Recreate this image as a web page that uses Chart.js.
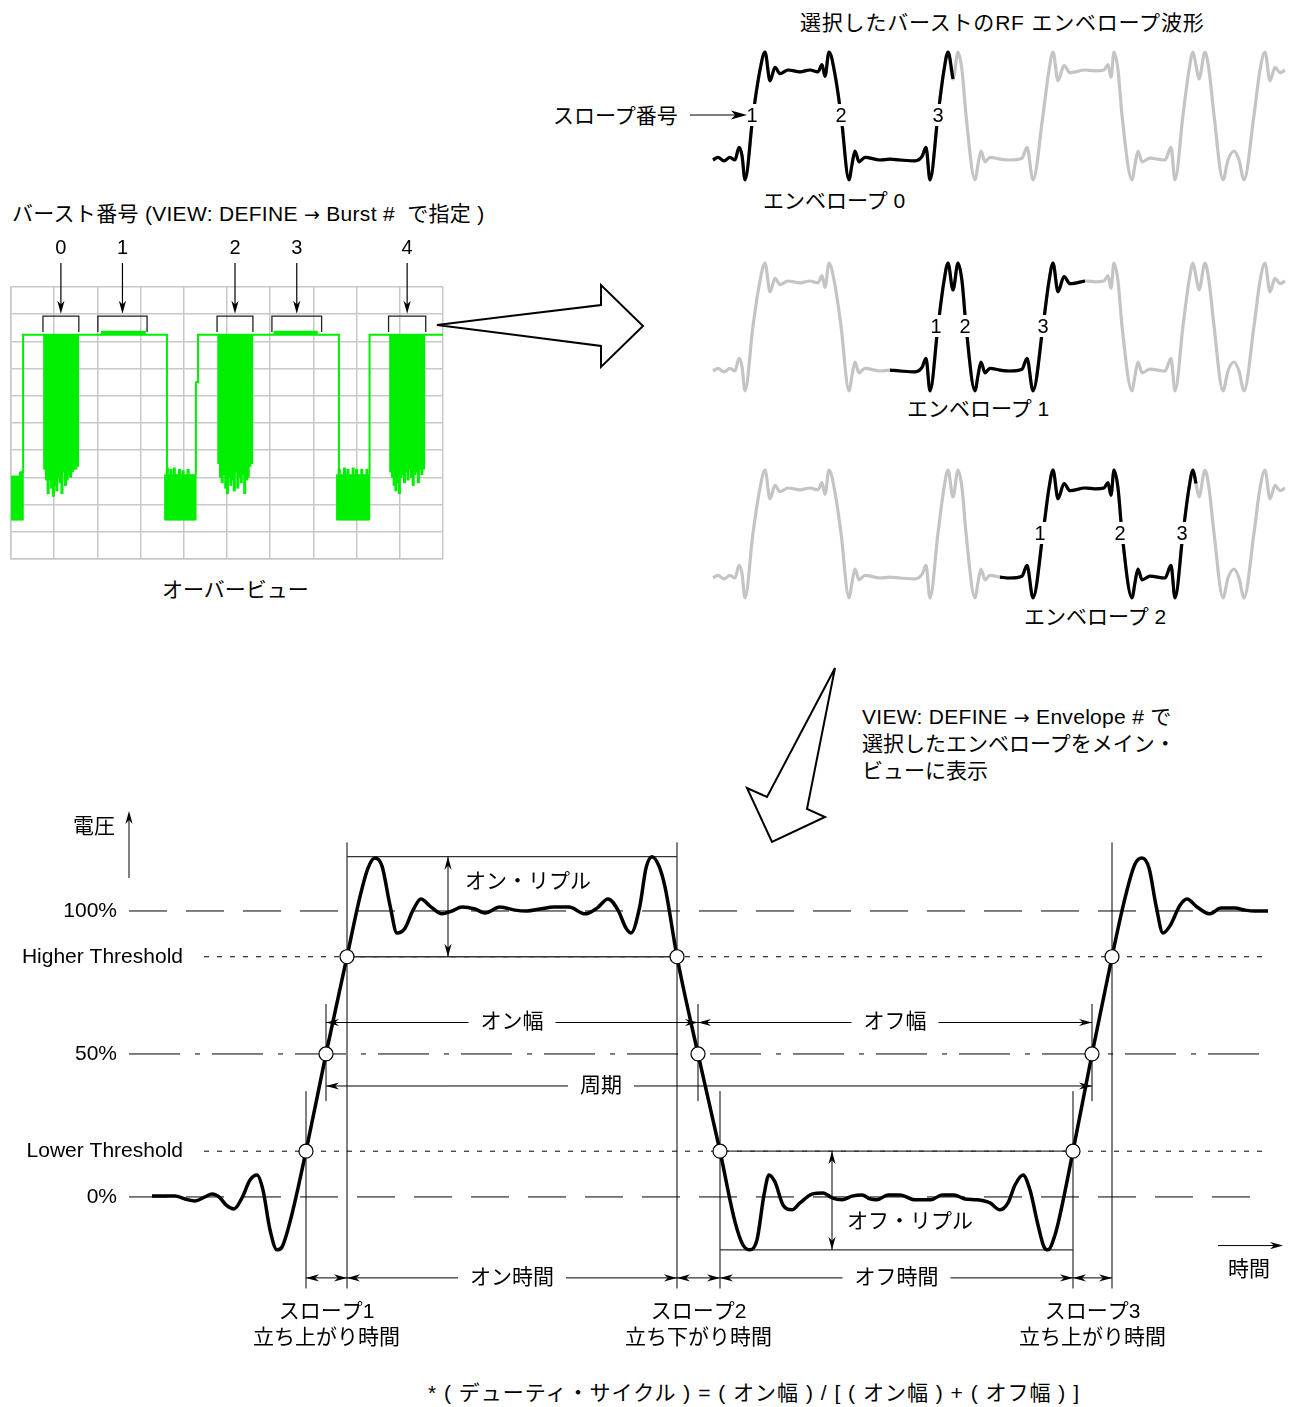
<!DOCTYPE html>
<html>
<head>
<meta charset="utf-8">
<script src="https://cdn.jsdelivr.net/npm/chart.js@4.4.1/dist/chart.umd.min.js"></script>
<style>
  body { margin: 0; background: #fff; width: 1300px; height: 1407px; position: relative; overflow: hidden;
         font-family: "Liberation Sans", "Noto Sans CJK JP", sans-serif; color: #000; }
  canvas { position: absolute; }
  .t { position: absolute; font-size: 21px; white-space: nowrap; line-height: 1; transform: translateY(-50%); }
  .ar { font-family: "DejaVu Sans", sans-serif; font-size: 19px; }
  svg { position: absolute; left: 0; top: 0; }
</style>
</head>
<body>

<div class="t" style="left:800px;top:22px;letter-spacing:0.8px">選択したバーストのRF エンベロープ波形</div>
<div class="t" style="left:553px;top:115px">スロープ番号</div>
<div class="t" style="left:763px;top:200px">エンベロープ 0</div>
<div class="t" style="left:907px;top:408px">エンベロープ 1</div>
<div class="t" style="left:1024px;top:616px">エンベロープ 2</div>
<div class="t" style="left:12px;top:213px;letter-spacing:0.3px">バースト番号 (VIEW: DEFINE <span class="ar">→</span> Burst #&nbsp; で指定 )</div>
<div class="t" style="left:162px;top:589px">オーバービュー</div>
<div class="t" style="left:862px;top:716px;letter-spacing:0.3px">VIEW: DEFINE <span class="ar">→</span> Envelope # で</div>
<div class="t" style="left:862px;top:743px">選択したエンベロープをメイン・</div>
<div class="t" style="left:862px;top:770px">ビューに表示</div>
<div class="t" style="left:428px;top:1392px;letter-spacing:1px">* ( デューティ・サイクル ) = ( オン幅 ) / [ ( オン幅 ) + ( オフ幅 ) ]</div>

<canvas id="ov" width="450" height="340" style="left:0;top:230px"></canvas>
<canvas id="env0" width="600" height="162" style="left:700px;top:34px"></canvas>
<canvas id="env1" width="600" height="162" style="left:700px;top:245px"></canvas>
<canvas id="env2" width="600" height="162" style="left:700px;top:452px"></canvas>
<canvas id="main" width="1300" height="644" style="left:0;top:768px"></canvas>

<svg width="1300" height="1407">
  <polygon points="437,325 601,305 601,285 643,326 601,367 601,346" fill="#fff" stroke="#000" stroke-width="2"/>
  <polygon points="835,668 767,797 747,788 772,842 825,817 807,809" fill="#fff" stroke="#000" stroke-width="2"/>
  <line x1="690" y1="115" x2="735" y2="115" stroke="#000" stroke-width="1.2"/>
  <polygon points="747,115 731,110.5 735,115 731,119.5" fill="#000"/>
</svg>

<script>
// ---- overview (grid units: 10 x 10) ----
const ovHigh = 8.24;
const ovFloor = 1.43;
const ovStep = 0.04;
const ovTraceX = [0.22, 0.28, 0.28, 3.61, 3.61, 3.9, 4.28, 4.28, 4.33, 4.33, 7.59, 7.59, 7.9, 8.30, 8.30, 10];
const ovTraceY = [3.2, 3.2, 8.24, 8.24, 1.43, null, 3.1, 6.5, 6.5, 8.24, 8.24, 1.43, null, 3.1, 8.24, 8.24];
const ovIdleX = [2.08, 3.12, 3.5, 6.08, 7.1];
const ovIdleY = [8.32, 8.32, null, 8.32, 8.32];
const ovBurstStart = [0.78, 4.81, 8.79];
const ovBurstLow = [
  [3.3, 2.9, 2.4, 2.9, 2.6, 2.3, 2.7, 2.5, 3.0, 2.8, 2.4, 3.2, 2.7, 2.9, 3.1, 3.0, 3.2, 3.3, 3.3, 3.4],
  [3.5, 3.0, 2.8, 3.1, 2.6, 2.4, 3.0, 2.7, 2.9, 2.5, 3.2, 2.6, 3.0, 2.8, 3.1, 2.4, 2.9, 3.0, 3.4, 3.5],
  [3.2, 3.0, 2.7, 2.5, 2.8, 2.4, 3.0, 3.1, 2.8, 3.2, 2.9, 3.3, 3.0, 2.7, 3.1, 3.2, 2.8, 3.3, 3.1, 3.3]
];
const ovNoiseStart = [0.02, 3.58, 7.56];
const ovNoiseTop = [
  [3.05, 3.05, 3.05, 3.05, 3.05, 3.2, 3.2],
  [3.1, 3.35, 3.1, 3.3, 3.1, 3.35, 3.1, 3.1, 3.3, 3.1, 3.25, 3.1, 3.1, 3.3, 3.1, 3.1, 3.1, 3.1],
  [3.1, 3.3, 3.1, 3.1, 3.35, 3.1, 3.3, 3.1, 3.1, 3.35, 3.1, 3.3, 3.1, 3.1, 3.3, 3.1, 3.1, 3.3, 3.1]
];
const burstNames = ["0", "1", "2", "3", "4"];
const burstFrom = [0.74, 2.01, 4.77, 6.04, 8.74];
const burstTo = [1.57, 3.15, 5.6, 7.19, 9.6];

// ---- RF envelope (time units, level 0 = off, 1 = on) ----
const envTime = [13,18,24,30,35,39,42,45,53,60,65,70,75,80,88,100,110,118,122,125,129,135,141,149,152,155,159,165,180,190,
  200,215,222,226,230,238,244,248,253,258,262,266,275,278,281,285,290,300,310,322,327,333,343,349,353,358,364,370,385,395,
  404,408,411,414,418,422,432,435,438,442,450,465,471,475,483,489,493,496,499,505,509,514,523,528,534,539,544,554,560,565,
  570,575,580,585];
const envLevel = [0,0.03,-0.01,0.03,0,0.14,0.05,-0.22,0.5,1.0,1.2,0.88,1.03,0.96,1.0,0.98,1.0,0.98,1.06,0.93,1.2,0.95,0.5,-0.22,-0.05,0.1,-0.02,0.03,0,0.01,
  0,-0.01,0.04,0.14,-0.22,0.5,1.0,1.2,0.9,1.2,1.0,0.5,-0.22,-0.05,0.1,-0.02,0.03,0.01,0,0.02,0.14,-0.22,0.5,1.0,1.2,0.88,1.05,0.97,1.0,0.99,
  1.0,1.06,0.92,1.2,1.0,0.5,-0.22,-0.05,0.1,-0.02,0.02,0,0.14,-0.22,0.5,1.0,1.2,1.05,0.9,1.2,1.0,0.5,-0.22,0,0.1,0,-0.22,0.5,1.0,1.2,
  0.88,1.03,0.97,1.0];
const envSelected = [[13, 253], [190, 385], [300, 496]];
const envSlopes = [[52, 141, 238], [236, 265, 343], [340, 420, 482]];

// ---- main view (time units, voltage %) ----
const mainTime = [22,45,55,65,75,82,90,96,104,112,120,127,133,140,147,152,160,176,196,217,230,238,245,252,260,267,275,283,291,300,
  312,322,332,345,355,370,385,397,410,424,439,455,467,478,488,496,501,510,516,522,529,535,547,568,590,605,613,620,627,634,
  639,645,653,662,670,682,693,702,712,722,732,740,747,758,770,785,801,812,824,835,847,860,870,878,885,893,900,908,914,918,
  925,930,943,962,982,995,1005,1012,1019,1026,1033,1040,1050,1057,1067,1080,1091,1105,1115,1125,1138];
const mainVolt = [0.3,0.3,-0.7,-1.4,0,1.0,-0.3,-2.8,-4.2,-0.3,5.9,7.7,2.4,-11.5,-18.5,-17.5,-8.7,16,50,84,105,115,118.5,115.7,102,92.3,94,100.3,104.2,101.7,
  99,100,101.4,100.7,99.3,101.4,100.3,100,100.7,101.4,101.4,99,101,104.2,100.3,94,92.3,102,115,119,115.7,108.4,84,50,16,-8.7,-16.8,-18.5,-15,0.7,
  7.7,5.2,-2.8,-4.5,-2.1,1.0,1.4,-0.3,-1.0,0.3,0.7,-0.7,-1.0,0.7,0.7,-1.0,-1.0,0.7,0.7,-0.7,-1.0,-2.1,-4.5,-2.1,4.2,7.7,2.4,-9.8,-17.5,-18.5,
  -13.3,-6.3,16,50,84,104.5,116.4,118.5,115,102,92.3,94.8,102,104.2,101.4,99,101,101,100.3,100,100];
const levelValues = [100, 84, 50, 16, 0];
const levelNames = ["100%", "Higher Threshold", "50%", "Lower Threshold", "0%"];
const crossLevels = [16, 50, 84];          // lower threshold, 50%, higher threshold
const slope1 = [176, 196, 217];            // rising
const slope2 = [590, 568, 547];            // falling
const slope3 = [943, 962, 982];            // rising
const slopeNames = ["スロープ1", "スロープ2", "スロープ3"];
const slopeKinds = ["立ち上がり時間", "立ち下がり時間", "立ち上がり時間"];

const FONT = '21px "Liberation Sans", "Noto Sans CJK JP", sans-serif';

function seg(ctx, x1, y1, x2, y2) {
  ctx.beginPath(); ctx.moveTo(x1, y1); ctx.lineTo(x2, y2); ctx.stroke();
}
function head(ctx, x, y, dx, dy) {
  const len = 13, w = 3.6;
  ctx.beginPath();
  ctx.moveTo(x, y);
  ctx.lineTo(x - dx * len - dy * w, y - dy * len + dx * w);
  ctx.lineTo(x - dx * len * 0.7, y - dy * len * 0.7);
  ctx.lineTo(x - dx * len + dy * w, y - dy * len - dx * w);
  ctx.closePath(); ctx.fill();
}
function label(ctx, text, x, y, align, gap) {
  ctx.textAlign = align || "center";
  if (gap) {
    const w = ctx.measureText(text).width;
    ctx.fillStyle = "#fff"; ctx.fillRect(x - w / 2 - gap, y - 12, w + gap * 2, 24); ctx.fillStyle = "#000";
  }
  ctx.fillText(text, x, y);
}
function span(ctx, x1, x2, y, text, textX) {
  seg(ctx, x1, y, x2, y);
  head(ctx, x1, y, -1, 0); head(ctx, x2, y, 1, 0);
  if (text) label(ctx, text, textX === undefined ? (x1 + x2) / 2 : textX, y, "center", 12);
}
function xy(xs, ys) { return xs.map((x, i) => ({ x: x, y: ys[i] })); }
function extent(t0, t1) {
  const v = mainVolt.filter((_, i) => mainTime[i] >= t0 && mainTime[i] <= t1);
  return [Math.min(...v), Math.max(...v)];
}

const quiet = { legend: { display: false }, tooltip: { enabled: false } };

// ---------- overview ----------
function barsBelow(starts, lows) {
  const out = [];
  starts.forEach((s, k) => lows[k].forEach((lo, i) => out.push({ x: s + i * ovStep, y: [lo, ovHigh] })));
  return out;
}
function barsAbove(starts, tops) {
  const out = [];
  starts.forEach((s, k) => tops[k].forEach((hi, i) => out.push({ x: s + i * ovStep, y: [ovFloor, hi] })));
  return out;
}
const ovNotes = {
  id: "ovNotes",
  afterDatasetsDraw(chart) {
    const { ctx, scales: { x, y } } = chart;
    const X = v => x.getPixelForValue(v), Y = v => y.getPixelForValue(v);
    ctx.save();
    ctx.font = '20px "Liberation Sans", sans-serif';
    ctx.textBaseline = "middle";
    burstNames.forEach((n, i) => {
      const a = X(burstFrom[i]), b = X(burstTo[i]), c = (a + b) / 2;
      ctx.strokeStyle = "#222"; ctx.lineWidth = 1.3;
      ctx.beginPath();
      ctx.moveTo(a, Y(8.35)); ctx.lineTo(a, Y(8.93)); ctx.lineTo(b, Y(8.93)); ctx.lineTo(b, Y(8.35));
      ctx.stroke();
      ctx.strokeStyle = "#000"; ctx.fillStyle = "#000"; ctx.lineWidth = 1.2;
      seg(ctx, c, Y(10.88), c, Y(9.3));
      head(ctx, c, Y(9.02), 0, 1);
      ctx.textAlign = "center";
      ctx.fillText(n, c, Y(11.43));
    });
    ctx.restore();
  }
};
const gridLook = { color: "#c8c8c8", lineWidth: 1.5, drawTicks: false, offset: false };
new Chart(document.getElementById("ov"), {
  type: "bar",
  data: {
    datasets: [
      { type: "line", data: xy(ovIdleX, ovIdleY), borderColor: "#00ee00", borderWidth: 4, pointRadius: 0, spanGaps: false },
      { type: "line", data: xy(ovTraceX, ovTraceY), borderColor: "#00ee00", borderWidth: 2, pointRadius: 0, spanGaps: false },
      { data: barsBelow(ovBurstStart, ovBurstLow), backgroundColor: "#00ee00", barThickness: 2.4, grouped: false },
      { data: barsAbove(ovNoiseStart, ovNoiseTop), backgroundColor: "#00ee00", barThickness: 2.4, grouped: false }
    ]
  },
  options: {
    responsive: false, animation: false, devicePixelRatio: 1,
    layout: { autoPadding: false, padding: { left: 11, top: 57, right: 7, bottom: 11 } },
    plugins: quiet,
    scales: {
      x: { type: "linear", min: 0, max: 10, offset: false, ticks: { display: false, stepSize: 1 },
           grid: gridLook, border: { color: "#c8c8c8", width: 1.5 } },
      y: { min: 0, max: 10, ticks: { display: false, stepSize: 1 },
           grid: gridLook, border: { color: "#c8c8c8", width: 1.5 } }
    }
  },
  plugins: [ovNotes]
});

// ---------- envelopes ----------
const envNotes = {
  id: "envNotes",
  afterDatasetsDraw(chart, args, opts) {
    const { ctx, scales: { x, y } } = chart;
    ctx.save();
    ctx.font = '20px "Liberation Sans", sans-serif';
    ctx.textAlign = "center"; ctx.textBaseline = "middle";
    opts.slopes.forEach((t, i) => {
      const px = x.getPixelForValue(t), py = y.getPixelForValue(0.5);
      ctx.fillStyle = "#fff"; ctx.fillRect(px - 7, py - 11, 14, 22);
      ctx.fillStyle = "#000"; ctx.fillText(String(i + 1), px, py + 1);
    });
    ctx.restore();
  }
};
const envAll = xy(envTime, envLevel);
envSelected.forEach((range, r) => {
  const picked = envAll.filter(p => p.x >= range[0] && p.x <= range[1]);
  new Chart(document.getElementById("env" + r), {
    type: "line",
    data: {
      datasets: [
        { data: picked, borderColor: "#000", borderWidth: 3.2, pointRadius: 0, cubicInterpolationMode: "monotone" },
        { data: envAll, borderColor: "#c4c4c4", borderWidth: 3.2, pointRadius: 0, cubicInterpolationMode: "monotone" }
      ]
    },
    options: {
      responsive: false, animation: false, devicePixelRatio: 1,
      layout: { autoPadding: false, padding: 0 },
      plugins: Object.assign({ envNotes: { slopes: envSlopes[r] } }, quiet),
      scales: { x: { type: "linear", min: 0, max: 600, display: false }, y: { min: -0.4, max: 1.4, display: false } }
    },
    plugins: [envNotes]
  });
});

// ---------- main view ----------
const levelDash = [[38, 19], [5, 8], [51, 15, 5, 12], [5, 8], [38, 19]];
const levelFrom = [-1, 74, -1, 74, -1];
const levelLabelAt = [-13, 53, -13, 53, -13];
const mainNotes = {
  id: "mainNotes",
  beforeDatasetsDraw(chart) {
    const { ctx, scales: { x, y } } = chart;
    const X = t => x.getPixelForValue(t), Y = v => y.getPixelForValue(v);
    ctx.save();
    ctx.strokeStyle = "#000"; ctx.fillStyle = "#000"; ctx.lineWidth = 1;
    levelValues.forEach((lv, i) => {
      ctx.setLineDash(levelDash[i]);
      seg(ctx, X(levelFrom[i]), Y(lv), X(1135), Y(lv));
    });
    ctx.setLineDash([]);
    const slopes = [slope1, slope2, slope3];
    slopes.forEach(s => {
      seg(ctx, X(s[2]), Y(124), X(s[2]), Y(-32));
      seg(ctx, X(s[1]), Y(67.5), X(s[1]), Y(33.5));
      seg(ctx, X(s[0]), Y(37), X(s[0]), Y(-32));
    });
    // ripple boxes
    const on = extent(slope1[2], slope2[2]), off = extent(slope2[0], slope3[0]);
    ctx.strokeStyle = "#333"; ctx.lineWidth = 1.3;
    seg(ctx, X(slope1[2]), Y(on[1]), X(slope2[2]), Y(on[1]));
    seg(ctx, X(slope1[2]), Y(on[0]), X(slope2[2]), Y(on[0]));
    seg(ctx, X(slope2[0]), Y(off[1]), X(slope3[0]), Y(off[1]));
    seg(ctx, X(slope2[0]), Y(off[0]), X(slope3[0]), Y(off[0]));
    ctx.strokeStyle = "#000"; ctx.lineWidth = 1;
    seg(ctx, X(318), Y(on[1]), X(318), Y(on[0]));
    head(ctx, X(318), Y(on[1]), 0, -1); head(ctx, X(318), Y(on[0]), 0, 1);
    seg(ctx, X(702), Y(off[1]), X(702), Y(off[0]));
    head(ctx, X(702), Y(off[1]), 0, -1); head(ctx, X(702), Y(off[0]), 0, 1);
    // widths, period, times
    ctx.font = FONT; ctx.textBaseline = "middle";
    span(ctx, X(slope1[1]), X(slope2[1]), Y(61), "オン幅");
    span(ctx, X(slope2[1]), X(slope3[1]), Y(61), "オフ幅");
    span(ctx, X(slope1[1]), X(slope3[1]), Y(38.8), "周期", X(471));
    span(ctx, X(slope1[0]), X(slope1[2]), Y(-28.3));
    span(ctx, X(slope1[2]), X(slope2[2]), Y(-28.3), "オン時間");
    span(ctx, X(slope2[2]), X(slope2[0]), Y(-28.3));
    span(ctx, X(slope2[0]), X(slope3[0]), Y(-28.3), "オフ時間");
    span(ctx, X(slope3[0]), X(slope3[2]), Y(-28.3));
    // axis arrows
    seg(ctx, X(-1), Y(111.5), X(-1), Y(132));
    head(ctx, X(-1), Y(135), 0, -1);
    seg(ctx, X(1088), Y(-17), X(1148), Y(-17));
    head(ctx, X(1153), Y(-17), 1, 0);
    ctx.restore();
  },
  afterDatasetsDraw(chart) {
    const { ctx, scales: { x, y } } = chart;
    const X = t => x.getPixelForValue(t), Y = v => y.getPixelForValue(v);
    ctx.save();
    ctx.font = FONT; ctx.textBaseline = "middle"; ctx.fillStyle = "#000";
    levelValues.forEach((lv, i) => label(ctx, levelNames[i], X(levelLabelAt[i]), Y(lv), "right"));
    label(ctx, "電圧", X(-15), Y(129.4), "right");
    label(ctx, "時間", X(1119), Y(-25.5), "center");
    label(ctx, "オン・リプル", X(335), Y(110), "left");
    label(ctx, "オフ・リプル", X(717), Y(-8.7), "left");
    [slope1, slope2, slope3].forEach((s, i) => {
      const c = X((s[0] + s[2]) / 2);
      label(ctx, slopeNames[i], c, Y(-40.2), "center");
      label(ctx, slopeKinds[i], c, Y(-49.3), "center");
    });
    ctx.restore();
  }
};
const crossPts = [];
[slope1, slope2, slope3].forEach(s => s.forEach((t, i) => crossPts.push({ x: t, y: crossLevels[i] })));
new Chart(document.getElementById("main"), {
  type: "line",
  data: {
    datasets: [
      { data: crossPts, showLine: false, pointRadius: 7, pointBackgroundColor: "#fff", pointBorderColor: "#000", pointBorderWidth: 1.2 },
      { data: xy(mainTime, mainVolt), borderColor: "#000", borderWidth: 3.5, pointRadius: 0, cubicInterpolationMode: "monotone" }
    ]
  },
  options: {
    responsive: false, animation: false, devicePixelRatio: 1,
    layout: { autoPadding: false, padding: 0 },
    plugins: quiet,
    scales: { x: { type: "linear", min: -130, max: 1170, display: false }, y: { min: -75.2, max: 150, display: false } }
  },
  plugins: [mainNotes]
});
</script>
</body>
</html>
